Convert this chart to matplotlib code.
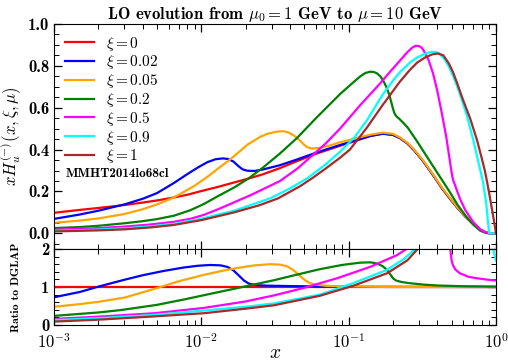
import numpy as np
import matplotlib
matplotlib.use("Agg")
import matplotlib.pyplot as plt
from matplotlib.ticker import MultipleLocator, LogLocator, NullFormatter, FuncFormatter

plt.rcParams['font.family'] = 'cmb10'
plt.rcParams['mathtext.fontset'] = 'cm'
plt.rcParams['axes.unicode_minus'] = False

nan = np.nan

# xi values and colours
xi_labels = ["0", "0.02", "0.05", "0.2", "0.5", "0.9", "1"]
colors = ["red", "blue", "orange", "green", "magenta", "cyan", "brown"]

# --- main panel: x H_u^(-)(x, xi, mu) ---
x_xi0 = [0.001, 0.0015, 0.002, 0.003, 0.004, 0.005, 0.0065, 0.008, 0.0104, 0.013, 0.0167,
         0.021, 0.0262, 0.034, 0.0447, 0.06, 0.0874, 0.11, 0.14, 0.171, 0.2, 0.223, 0.25,
         0.28, 0.32, 0.374, 0.43, 0.488, 0.55, 0.62, 0.7, 0.78, 0.85, 0.92, 1.0]
h_xi0 = [0.098, 0.112, 0.121, 0.135, 0.147, 0.157, 0.171, 0.184, 0.205, 0.222, 0.243,
         0.262, 0.282, 0.311, 0.345, 0.380, 0.418, 0.440, 0.465, 0.476, 0.470, 0.455, 0.430,
         0.395, 0.345, 0.278, 0.215, 0.165, 0.120, 0.080, 0.045, 0.018, 0.005, 0.0, 0.0]

x_xi002 = [0.001, 0.0015, 0.002, 0.003, 0.004, 0.005, 0.0065, 0.008, 0.0095, 0.011, 0.0125,
           0.014, 0.0152, 0.0165, 0.0178, 0.019, 0.0205, 0.023, 0.0262, 0.034, 0.0447, 0.06,
           0.0874, 0.11, 0.14, 0.171, 0.2, 0.223, 0.25, 0.28, 0.32, 0.374, 0.43, 0.488, 0.55,
           0.62, 0.7, 0.78, 0.85, 0.92, 1.0]
h_xi002 = [0.069, 0.090, 0.108, 0.138, 0.165, 0.192, 0.240, 0.282, 0.315, 0.340, 0.354,
           0.358, 0.355, 0.343, 0.322, 0.306, 0.299, 0.298, 0.305, 0.325, 0.353, 0.385,
           0.422, 0.443, 0.465, 0.476, 0.470, 0.455, 0.430, 0.395, 0.345, 0.278, 0.215, 0.165, 0.120,
           0.080, 0.045, 0.018, 0.005, 0.0, 0.0]

x_xi005 = [0.001, 0.0015, 0.002, 0.003, 0.004, 0.005, 0.0065, 0.0089, 0.011, 0.0128, 0.0157,
           0.0207, 0.025, 0.0279, 0.032, 0.036, 0.039, 0.0425, 0.046, 0.049, 0.052, 0.056,
           0.0639, 0.075, 0.0874, 0.11, 0.14, 0.171, 0.2, 0.223, 0.25, 0.28, 0.32, 0.374,
           0.43, 0.488, 0.55, 0.62, 0.7, 0.78, 0.85, 0.92, 1.0]
h_xi005 = [0.050, 0.061, 0.071, 0.092, 0.115, 0.138, 0.171, 0.225, 0.270, 0.306, 0.353,
           0.425, 0.460, 0.475, 0.485, 0.488, 0.482, 0.467, 0.448, 0.428, 0.413, 0.405,
           0.408, 0.420, 0.435, 0.453, 0.471, 0.481, 0.475, 0.458, 0.433, 0.398, 0.348, 0.281,
           0.218, 0.168, 0.122, 0.082, 0.046, 0.018, 0.005, 0.0, 0.0]

x_xi02 = [0.001, 0.0015, 0.002, 0.003, 0.004, 0.005, 0.0065, 0.0084, 0.0104, 0.013, 0.0167,
          0.021, 0.0262, 0.034, 0.0447, 0.06, 0.0874, 0.105, 0.12, 0.13, 0.14, 0.148, 0.156,
          0.164, 0.171, 0.18, 0.188, 0.195, 0.2, 0.205, 0.212, 0.22, 0.235, 0.253, 0.291,
          0.33, 0.374, 0.43, 0.488, 0.55, 0.636, 0.7, 0.78, 0.85, 0.9, 1.0]
h_xi02 = [0.025, 0.030, 0.036, 0.048, 0.058, 0.068, 0.084, 0.110, 0.140, 0.178, 0.219,
          0.263, 0.314, 0.380, 0.456, 0.550, 0.665, 0.715, 0.750, 0.766, 0.772, 0.771, 0.764,
          0.750, 0.732, 0.700, 0.665, 0.625, 0.595, 0.572, 0.557, 0.548, 0.528, 0.503, 0.440,
          0.380, 0.321, 0.255, 0.195, 0.135, 0.075, 0.042, 0.013, 0.002, 0.0, 0.0]

x_xi05 = [0.001, 0.002, 0.003, 0.0045, 0.0065, 0.0085, 0.0104, 0.013, 0.0167, 0.022, 0.0342,
          0.045, 0.0573, 0.07, 0.0874, 0.119, 0.163, 0.19, 0.223, 0.25, 0.27, 0.285, 0.30,
          0.315, 0.33, 0.35, 0.374, 0.40, 0.43, 0.46, 0.488, 0.50, 0.51, 0.54, 0.57, 0.62,
          0.7, 0.78, 0.85, 0.9, 1.0]
h_xi05 = [0.017, 0.025, 0.032, 0.042, 0.055, 0.070, 0.088, 0.115, 0.148, 0.185, 0.250,
          0.310, 0.375, 0.430, 0.500, 0.610, 0.715, 0.770, 0.825, 0.865, 0.887, 0.896, 0.895,
          0.885, 0.862, 0.825, 0.764, 0.680, 0.570, 0.460, 0.340, 0.290, 0.258, 0.210, 0.165, 0.110,
          0.055, 0.020, 0.004, 0.0, 0.0]

x_xi09 = [0.001, 0.002, 0.003, 0.0045, 0.0065, 0.01, 0.0167, 0.0293, 0.04, 0.0522, 0.07,
          0.0874, 0.11, 0.133, 0.171, 0.2, 0.223, 0.26, 0.291, 0.33, 0.36, 0.386, 0.41, 0.45,
          0.488, 0.53, 0.57, 0.636, 0.699, 0.76, 0.817, 0.86, 0.884, 0.9, 1.0]
h_xi09 = [0.012, 0.018, 0.024, 0.033, 0.045, 0.070, 0.108, 0.167, 0.215, 0.262, 0.330,
          0.390, 0.460, 0.540, 0.665, 0.730, 0.770, 0.815, 0.840, 0.858, 0.866, 0.867, 0.860, 0.830,
          0.785, 0.725, 0.665, 0.560, 0.450, 0.340, 0.245, 0.140, 0.050, 0.0, 0.0]

x_xi1 = [0.001, 0.002, 0.003, 0.0045, 0.0065, 0.01, 0.0167, 0.025, 0.0332, 0.0468, 0.0573,
         0.07, 0.0874, 0.102, 0.133, 0.171, 0.223, 0.26, 0.291, 0.33, 0.37, 0.405, 0.44,
         0.48, 0.511, 0.55, 0.598, 0.667, 0.744, 0.80, 0.84, 0.871, 0.9, 0.926, 0.95,
         0.969, 0.985, 1.0]
h_xi1 = [0.009, 0.014, 0.019, 0.028, 0.040, 0.063, 0.100, 0.135, 0.167, 0.225, 0.266,
         0.310, 0.361, 0.400, 0.505, 0.615, 0.725, 0.780, 0.815, 0.840, 0.855, 0.859, 0.850,
         0.810, 0.770, 0.710, 0.637, 0.550, 0.445, 0.360, 0.300, 0.245, 0.190, 0.140, 0.095,
         0.060, 0.030, 0.0]

# --- lower panel: ratio to DGLAP ---
rx_xi0 = [0.001, 1.0]
r_xi0 = [1.0, 1.0]

rx_xi002 = [0.001, 0.0015, 0.002, 0.003, 0.004, 0.0055, 0.0075, 0.0095, 0.0115, 0.0135,
            0.015, 0.0165, 0.018, 0.0195, 0.021, 0.0235, 0.028, 0.04, 0.06, 0.1, 1.0]
r_xi002 = [0.73, 0.87, 1.01, 1.19, 1.31, 1.42, 1.51, 1.56, 1.58, 1.57,
           1.53, 1.44, 1.30, 1.17, 1.09, 1.05, 1.035, 1.025, 1.015, 1.005, 1.0]

rx_xi005 = [0.001, 0.0015, 0.002, 0.003, 0.0048, 0.007, 0.0104, 0.014, 0.0175, 0.023, 0.0293,
            0.034, 0.038, 0.042, 0.0468, 0.0505, 0.0547, 0.06, 0.0713, 0.0975, 0.2, 1.0]
r_xi005 = [0.48, 0.55, 0.61, 0.72, 0.95, 1.15, 1.32, 1.43, 1.50, 1.57, 1.60,
           1.59, 1.55, 1.45, 1.29, 1.18, 1.10, 1.06, 1.03, 1.015, 1.0, 1.0]

rx_xi02 = [0.001, 0.002, 0.0028, 0.005, 0.0078, 0.0115, 0.0175, 0.0312, 0.045, 0.0639, 0.09,
           0.119, 0.14, 0.156, 0.17, 0.182, 0.192, 0.20, 0.21, 0.23, 0.261, 0.33, 0.4, 0.6, 1.0]
r_xi02 = [0.24, 0.33, 0.39, 0.53, 0.68, 0.82, 0.97, 1.18, 1.33, 1.47, 1.58,
          1.64, 1.65, 1.62, 1.55, 1.45, 1.33, 1.23, 1.17, 1.13, 1.10, 1.06, 1.04, 1.02, 1.01]

rx_xi05 = [0.001, 0.002, 0.0048, 0.0104, 0.02, 0.0312, 0.049, 0.0834, 0.14, 0.213, 0.27, nan,
           0.487, 0.493, 0.50, 0.51, 0.53, 0.57, 0.65, 0.74, 0.85, 1.0]
r_xi05 = [0.16, 0.22, 0.31, 0.45, 0.62, 0.78, 0.97, 1.23, 1.53, 1.84, 2.1, nan,
          2.1, 1.9, 1.7, 1.58, 1.46, 1.36, 1.27, 1.23, 1.20, 1.17]

rx_xi09 = [0.001, 0.002, 0.0045, 0.0104, 0.02, 0.0312, 0.0639, 0.107, 0.182, 0.24, 0.30, nan,
           0.94, 0.97, 1.0]
r_xi09 = [0.13, 0.18, 0.26, 0.38, 0.48, 0.57, 0.80, 1.10, 1.45, 1.75, 2.1, nan,
          2.1, 1.9, 1.7]

rx_xi1 = [0.001, 0.002, 0.0045, 0.0104, 0.02, 0.0312, 0.0639, 0.107, 0.182, 0.25, 0.31]
r_xi1 = [0.09, 0.14, 0.22, 0.31, 0.43, 0.52, 0.77, 1.03, 1.36, 1.70, 2.1]

main_data = [(x_xi0, h_xi0), (x_xi002, h_xi002), (x_xi005, h_xi005), (x_xi02, h_xi02),
             (x_xi05, h_xi05), (x_xi09, h_xi09), (x_xi1, h_xi1)]
ratio_data = [(rx_xi0, r_xi0), (rx_xi002, r_xi002), (rx_xi005, r_xi005), (rx_xi02, r_xi02),
              (rx_xi05, r_xi05), (rx_xi09, r_xi09), (rx_xi1, r_xi1)]

fig = plt.figure(figsize=(5.08, 3.61), dpi=100)
ax = fig.add_axes([0.1063, 0.3102, 0.870, 0.6233])
ax2 = fig.add_axes([0.1063, 0.0997, 0.870, 0.2105], sharex=ax)

for (x, h), c, lab in zip(main_data, colors, xi_labels):
    ax.plot(x, h, color=c, lw=1.6, label=r"$\xi = %s$" % lab)
for (x, r), c in zip(ratio_data, colors):
    ax2.plot(x, r, color=c, lw=1.6)

ax.set_xscale("log")
ax.set_xlim(1e-3, 1.0)
ax.set_ylim(-0.075, 1.0)
ax2.set_ylim(0, 2)

ax.yaxis.set_major_locator(MultipleLocator(0.2))
ax.yaxis.set_minor_locator(MultipleLocator(0.05))
ax.yaxis.set_major_formatter(matplotlib.ticker.FormatStrFormatter("%.1f"))
ax2.yaxis.set_major_locator(MultipleLocator(1))
ax2.yaxis.set_minor_locator(MultipleLocator(0.2))
ax2.xaxis.set_major_locator(LogLocator(base=10, numticks=10))
ax2.xaxis.set_minor_locator(LogLocator(base=10, subs=np.arange(2, 10), numticks=10))
ax2.xaxis.set_minor_formatter(NullFormatter())
ax2.xaxis.set_major_formatter(FuncFormatter(
    lambda v, p: r"$\mathbf{10}^{%s\mathbf{%d}}$" % ("-" if v < 1 else "", abs(round(np.log10(v))))))

for a in (ax, ax2):
    a.tick_params(which="both", direction="in", top=True, right=True, labelsize=12)
    a.tick_params(which="major", length=6, width=0.9)
    a.tick_params(which="minor", length=3.5, width=0.7)
ax.tick_params(labelbottom=False)
ax2.tick_params(axis="x", which="major", pad=5)

ax.set_title(r"LO evolution from $\mu_0 = 1$ GeV to $\mu = 10$ GeV", fontsize=12, pad=3)
ax.set_ylabel(r"$xH_u^{(-)}(x,\xi,\mu)$", fontsize=12)
ax.yaxis.set_label_coords(-0.068, 0.5)
ax2.set_ylabel("Ratio to DGLAP", fontsize=8.5)
ax2.yaxis.set_label_coords(-0.074, 0.5)
ax2.set_xlabel(r"$x$", fontsize=14, labelpad=-5)

ax.legend(loc="upper left", frameon=False, fontsize=11, handlelength=1.9,
          labelspacing=0.05, borderaxespad=0.3, handletextpad=0.8)
ax.text(0.027, 0.335, "MMHT2014lo68cl", transform=ax.transAxes, fontsize=9.5,
        va="center", ha="left")

fig.savefig("out.png", dpi=100)
